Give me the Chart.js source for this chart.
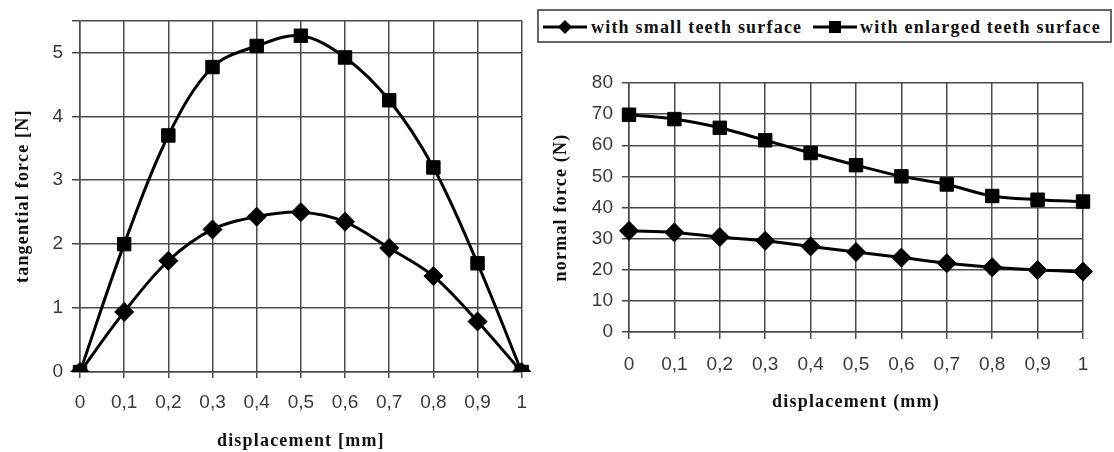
<!DOCTYPE html>
<html>
<head>
<meta charset="utf-8">
<script src="https://cdn.jsdelivr.net/npm/chart.js@4.4.1/dist/chart.umd.min.js"></script>
<style>
  html, body { margin: 0; padding: 0; background: #fff; }
  #wrap { position: relative; width: 1114px; height: 452px; overflow: hidden; background: #fff; }
  canvas { position: absolute; top: 0; }
  #c1 { left: 0; }
  #c2 { left: 540px; }
  #legend { position: absolute; left: 537px; top: 9px; width: 575px; height: 34px; box-sizing: border-box; border: 2px solid #666; background: #fff; }
  .lg { position: absolute; font-family: "Liberation Serif", "Times New Roman", serif; font-weight: bold; font-size: 18px; letter-spacing: 1.2px; line-height: 20px; color: #111; top: 6px; white-space: nowrap; }
  .sym { position: absolute; top: 6px; }
</style>
</head>
<body>
<div id="wrap">
  <canvas id="c1" width="540" height="452"></canvas>
  <canvas id="c2" width="574" height="452"></canvas>
  <div id="legend"></div>
</div>
<script>
// ---- data ----
const categories = ["0", "0,1", "0,2", "0,3", "0,4", "0,5", "0,6", "0,7", "0,8", "0,9", "1"];
const seriesNames = ["with small teeth surface", "with enlarged teeth surface"];
// left chart: tangential force [N]
const tangentialSmall = [0, 0.94, 1.74, 2.23, 2.43, 2.5, 2.35, 1.94, 1.5, 0.79, 0];
const tangentialEnlarged = [0, 2.0, 3.7, 4.77, 5.1, 5.26, 4.92, 4.25, 3.2, 1.7, 0];
// right chart: normal force (N)
const normalSmall = [32.5, 32.0, 30.5, 29.3, 27.5, 25.7, 23.9, 22.1, 20.8, 19.9, 19.4];
const normalEnlarged = [69.8, 68.4, 65.6, 61.6, 57.5, 53.6, 50.0, 47.4, 43.7, 42.5, 41.9];
const leftYTicks = [0, 1, 2, 3, 4, 5, 5.5];
const rightYTicks = [0, 10, 20, 30, 40, 50, 60, 70, 80];
const leftTitles = { x: "displacement [mm]", y: "tangential force [N]" };
const rightTitles = { x: "displacement (mm)", y: "normal force (N)" };

const GRID = '#4a4a4a';
const tickFont = { family: "'Liberation Sans', Arial, sans-serif", size: 19 };
const titleFont = { family: "'Liberation Serif', 'Times New Roman', serif", size: 18, weight: 'bold' };

const spacingPlugin = {
  id: 'titleSpacing',
  beforeDraw(chart) {
    Object.values(chart.scales).forEach(s => {
      if (s._spPatched) return;
      const orig = s.drawTitle;
      s.drawTitle = function () {
        const ctx = this.ctx;
        const prev = ctx.letterSpacing;
        try { ctx.letterSpacing = '1.2px'; } catch (e) {}
        orig.apply(this, arguments);
        try { ctx.letterSpacing = prev || '0px'; } catch (e) {}
      };
      s._spPatched = true;
    });
  }
};

function ds(label, data, style) {
  return {
    label, data,
    borderColor: '#000', backgroundColor: '#000',
    borderWidth: 3,
    pointStyle: style,
    pointRadius: style === 'rect' ? 9.5 : 9.5,
    pointBorderWidth: 1,
    pointBackgroundColor: '#000', pointBorderColor: '#000',
    tension: 0.35,
    fill: false
  };
}

function makeChart(id, smallData, enlData, yTicks, yMax, titles, cfg) {
  return new Chart(document.getElementById(id), {
    type: 'line',
    data: {
      labels: categories,
      datasets: [ds(seriesNames[1], enlData, 'rect'), ds(seriesNames[0], smallData, 'rectRot')]
    },
    options: {
      responsive: false,
      animation: false,
      devicePixelRatio: 1,
      layout: { padding: cfg.padding },
      plugins: { legend: { display: false }, tooltip: { enabled: false } },
      scales: {
        x: {
          type: 'category',
          offset: false,
          grid: { color: GRID, lineWidth: 1.5, tickLength: cfg.xTick, offset: false },
          border: { color: GRID, width: 1.5 },
          ticks: { font: tickFont, color: '#3a3a3a', padding: cfg.xPad, autoSkip: false, maxRotation: 0, minRotation: 0 },
          title: { display: true, text: titles.x, font: titleFont, color: '#111', padding: { top: 0, bottom: cfg.xTitlePad } },
          afterFit(s) { s.height = cfg.xHeight; }
        },
        y: {
          min: 0, max: yMax,
          grid: { color: GRID, lineWidth: 1.5, tickLength: cfg.yTick },
          border: { color: GRID, width: 1.5 },
          afterBuildTicks(s) { s.ticks = yTicks.map(v => ({ value: v })); },
          ticks: {
            font: tickFont, color: '#3a3a3a', padding: cfg.yPad,
            callback: (v) => Number.isInteger(v) ? String(v) : ''
          },
          title: { display: true, text: titles.y, font: titleFont, color: '#111', padding: { top: cfg.yTitlePad, bottom: 0 } },
          afterFit(s) { s.width = cfg.yWidth; }
        }
      }
    },
    plugins: [spacingPlugin]
  });
}

makeChart('c1', tangentialSmall, tangentialEnlarged, leftYTicks, 5.5, leftTitles, {
  padding: { left: 0, top: 10, right: 14, bottom: 0 },
  xHeight: 80, yWidth: 80, xTick: 6, yTick: 8, xPad: 13, yPad: 9, xTitlePad: 0, yTitlePad: 13
});
makeChart('c2', normalSmall, normalEnlarged, rightYTicks, 80, rightTitles, {
  padding: { left: 0, top: 83, right: 31, bottom: 0 },
  xHeight: 120, yWidth: 89, xTick: 7, yTick: 7, xPad: 14, yPad: 9, xTitlePad: 39, yTitlePad: 11
});

// ---- legend (HTML) ----
const legend = document.getElementById('legend');
const lgItems = [
  { name: seriesNames[0], shape: 'diamond', symLeft: 4, textLeft: 52 },
  { name: seriesNames[1], shape: 'square', symLeft: 274, textLeft: 321 }
];
lgItems.forEach(it => {
  const svgNS = 'http://www.w3.org/2000/svg';
  const svg = document.createElementNS(svgNS, 'svg');
  svg.setAttribute('width', '44'); svg.setAttribute('height', '20');
  svg.setAttribute('class', 'sym');
  svg.style.left = it.symLeft + 'px';
  const line = document.createElementNS(svgNS, 'line');
  line.setAttribute('x1', '0'); line.setAttribute('x2', '44');
  line.setAttribute('y1', '10'); line.setAttribute('y2', '10');
  line.setAttribute('stroke', '#000'); line.setAttribute('stroke-width', '3');
  svg.appendChild(line);
  let m;
  if (it.shape === 'diamond') {
    m = document.createElementNS(svgNS, 'polygon');
    m.setAttribute('points', '22,3 29,10 22,17 15,10');
  } else {
    m = document.createElementNS(svgNS, 'rect');
    m.setAttribute('x', '16'); m.setAttribute('y', '4');
    m.setAttribute('width', '12'); m.setAttribute('height', '12');
  }
  m.setAttribute('fill', '#000');
  svg.appendChild(m);
  legend.appendChild(svg);
  const sp = document.createElement('span');
  sp.className = 'lg';
  sp.style.left = it.textLeft + 'px';
  sp.textContent = it.name;
  legend.appendChild(sp);
});
</script>
</body>
</html>
